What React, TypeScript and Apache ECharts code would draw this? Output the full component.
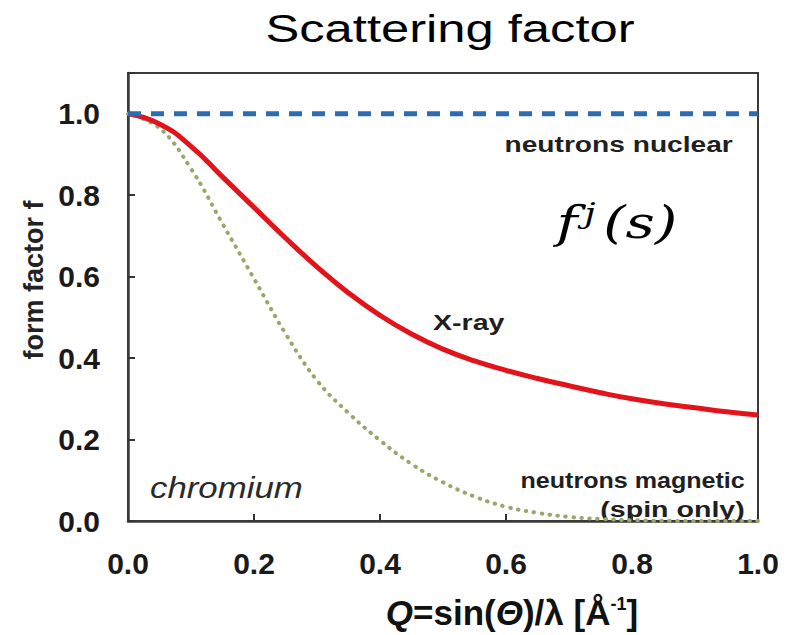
import React, { useEffect, useRef } from "react";
import * as echarts from "echarts";

// Q = sin(theta)/lambda [1/Å]
const xrayQ = [0, 0.05, 0.1, 0.15, 0.2, 0.25, 0.3, 0.35, 0.4, 0.45, 0.5, 0.55, 0.6, 0.65, 0.7, 0.75, 0.8, 0.85, 0.9, 0.95, 1.0];
const xrayF = [1.0, 0.975, 0.92, 0.845, 0.77, 0.695, 0.624, 0.56, 0.505, 0.459, 0.422, 0.393, 0.37, 0.35, 0.332, 0.315, 0.3, 0.288, 0.278, 0.268, 0.26];

const magQ = [0, 0.05, 0.1, 0.15, 0.2, 0.25, 0.3, 0.35, 0.4, 0.45, 0.5, 0.55, 0.6, 0.65, 0.7, 0.75, 0.8, 0.9, 1.0];
const magF = [1.0, 0.965, 0.865, 0.73, 0.595, 0.46, 0.345, 0.265, 0.198, 0.14, 0.095, 0.06, 0.035, 0.02, 0.01, 0.005, 0.002, 0, 0];

const nuclearQ = [0, 1.0];
const nuclearF = [1.0, 1.0];

const yTickLabels = ["0.0", "0.2", "0.4", "0.6", "0.8", "1.0"];
const xTickLabels = ["0.0", "0.2", "0.4", "0.6", "0.8", "1.0"];

const SANS = 'Arial, "Liberation Sans", Helvetica, sans-serif';
const SERIF = '"Cambria Math", "DejaVu Serif", "Liberation Serif", serif';

const pairs = (xs: number[], ys: number[]) => xs.map((x, i) => [x, ys[i]]);

export default function App() {
  const ref = useRef<HTMLDivElement>(null);
  useEffect(() => {
    const chart = echarts.init(ref.current!, null, { renderer: "svg" });
    chart.setOption({
      animation: false,
      backgroundColor: "#ffffff",
      grid: {
        left: 128,
        right: 36,
        top: 73,
        bottom: 100,
        show: true,
        borderColor: "#3a3a3a",
        borderWidth: 2,
        backgroundColor: "transparent",
      },
      xAxis: {
        type: "value",
        min: 0,
        max: 1,
        interval: 0.2,
        name: "{q|Q}{n|=sin(}{q|Θ}{n|)/λ [Å}{s|-1}{n|]}",
        nameLocation: "middle",
        nameGap: 74,
        nameTextStyle: {
          padding: [0, 0, 0, 138],
          rich: {
            q: { fontFamily: SANS, fontSize: 35, fontWeight: "bold", fontStyle: "italic", color: "#111" },
            n: { fontFamily: SANS, fontSize: 35, fontWeight: "bold", color: "#111" },
            s: { fontFamily: SANS, fontSize: 18, fontWeight: "bold", color: "#111", verticalAlign: "top", padding: [0, 0, 16, 0] },
          },
        },
        axisLine: { lineStyle: { color: "#3a3a3a", width: 2.5 } },
        axisTick: { inside: true, length: 7, lineStyle: { color: "#333", width: 2 } },
        splitLine: { show: false },
        axisLabel: {
          margin: 27,
          fontFamily: SANS,
          fontSize: 30,
          fontWeight: "bold",
          color: "#1a1a1a",
          formatter: (v: number) => xTickLabels[Math.round(v / 0.2)] ?? "",
        },
      },
      yAxis: {
        type: "value",
        min: 0,
        max: 1.1,
        interval: 0.2,
        name: "form factor f",
        nameLocation: "middle",
        nameRotate: 90,
        nameGap: 80,
        nameTextStyle: {
          fontFamily: SANS,
          fontSize: 27,
          fontWeight: "bold",
          color: "#222",
          padding: [0, 0, 0, 34],
        },
        axisLine: { lineStyle: { color: "#3a3a3a", width: 2.5 } },
        axisTick: { inside: true, length: 7, lineStyle: { color: "#333", width: 2 } },
        splitLine: { show: false },
        axisLabel: {
          margin: 28,
          fontFamily: SANS,
          fontSize: 30,
          fontWeight: "bold",
          color: "#1a1a1a",
          formatter: (v: number) => {
            const i = Math.round(v / 0.2);
            return Math.abs(v - i * 0.2) < 1e-6 ? yTickLabels[i] ?? "" : "";
          },
        },
      },
      series: [
        {
          name: "neutrons magnetic",
          type: "line",
          data: pairs(magQ, magF),
          smooth: 0.4,
          showSymbol: false,
          lineStyle: { color: "#97a86a", width: 4, type: [0.5, 7.5], cap: "round" },
          z: 2,
        },
        {
          name: "X-ray",
          type: "line",
          data: pairs(xrayQ, xrayF),
          smooth: 0.5,
          showSymbol: false,
          lineStyle: { color: "#e3131b", width: 5 },
          z: 3,
        },
        {
          name: "neutrons nuclear",
          type: "line",
          data: pairs(nuclearQ, nuclearF),
          showSymbol: false,
          lineStyle: { color: "#2c6db2", width: 5, type: [13, 10] },
          z: 4,
        },
      ],
    });

    const px = (x: number, y: number) => chart.convertToPixel({ gridIndex: 0 }, [x, y]) as number[];
    const p1 = px(0.96, 0.926);
    const p2 = px(0.484, 0.488);
    const p3 = px(0.035, 0.08);
    const p4 = px(0.979, 0.1);
    const p5 = px(0.979, 0.028);
    const p6 = px(0.776, 0.733);
    const bold = { fontFamily: SANS, fontWeight: "bold", fontSize: 22, fill: "#1f1f1f", verticalAlign: "middle" };
    chart.setOption({
      graphic: [
        {
          type: "text",
          x: 450,
          y: 29,
          scaleX: 1.3,
          style: { text: "Scattering factor", fontFamily: SANS, fontSize: 39, fill: "#000", align: "center", verticalAlign: "middle" },
        },
        { type: "text", x: p1[0], y: p1[1], scaleX: 1.28, style: { ...bold, text: "neutrons nuclear", align: "right" } },
        { type: "text", x: p2[0], y: p2[1], scaleX: 1.3, style: { ...bold, text: "X-ray", align: "left" } },
        {
          type: "text",
          x: p3[0],
          y: p3[1],
          scaleX: 1.2,
          style: { text: "chromium", fontFamily: SANS, fontStyle: "italic", fontSize: 29, fill: "#2a2a2a", align: "left", verticalAlign: "middle" },
        },
        { type: "text", x: p4[0], y: p4[1], scaleX: 1.14, style: { ...bold, text: "neutrons magnetic", align: "right" } },
        { type: "text", x: p5[0], y: p5[1], scaleX: 1.3, style: { ...bold, text: "(spin only)", align: "right" } },
        {
          type: "text",
          x: p6[0],
          y: p6[1],
          scaleX: 1.3,
          style: {
            text: "{f|f}{j|j}{p|(s)}",
            align: "center",
            verticalAlign: "middle",
            fill: "#000",
            rich: {
              f: { fontFamily: SERIF, fontStyle: "italic", fontSize: 44, padding: [0, 5, 0, 0] },
              j: { fontFamily: SERIF, fontStyle: "italic", fontSize: 28, verticalAlign: "top", padding: [0, 6, 18, 0] },
              p: { fontFamily: SERIF, fontStyle: "italic", fontSize: 44 },
            },
          },
        },
      ],
    });
    return () => chart.dispose();
  }, []);
  return <div ref={ref} style={{ width: 794, height: 635, position: "absolute", left: 0, top: 0 }} />;
}
